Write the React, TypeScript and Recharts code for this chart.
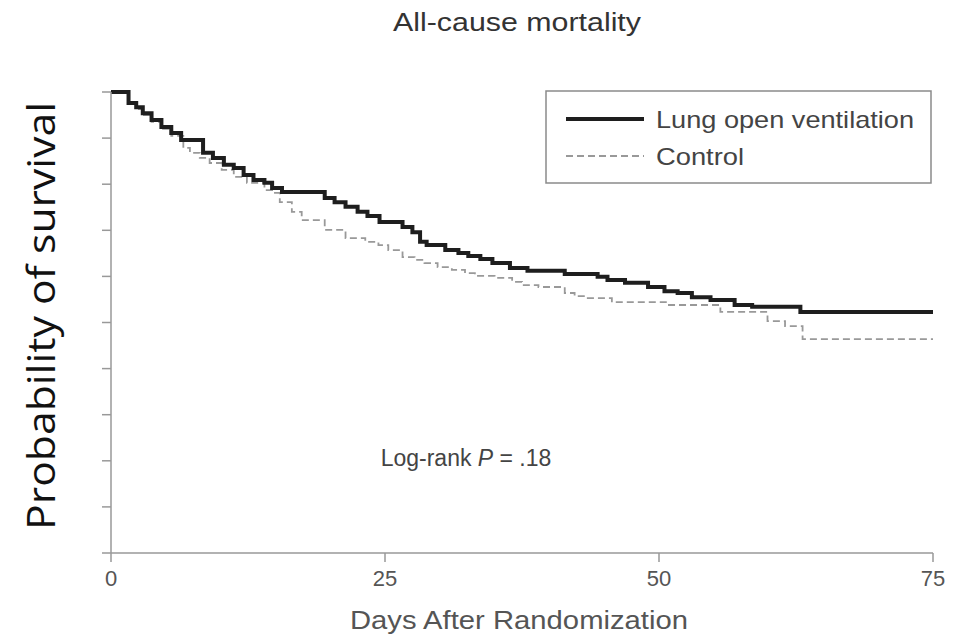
import { LineChart, Line, XAxis, YAxis, Legend, Customized } from "recharts";

// Kaplan-Meier step points
const lovDays = [0, 1.6, 2.3, 2.9, 3.7, 4.6, 5.5, 6.4, 8.4, 9.3, 10.3, 11.2, 12.1, 13.0, 14.0, 14.7, 15.6, 19.5, 20.4, 21.4, 22.5, 23.4, 24.5, 26.6, 27.5, 28.2, 28.8, 30.5, 31.7, 32.6, 33.7, 34.8, 36.4, 38.0, 41.4, 44.4, 45.3, 46.9, 49.0, 50.5, 51.7, 53.0, 54.7, 56.9, 58.5, 62.9, 75];
const lovSurvival = [1.0, 0.976, 0.967, 0.954, 0.939, 0.924, 0.911, 0.896, 0.868, 0.857, 0.842, 0.835, 0.82, 0.809, 0.803, 0.792, 0.783, 0.77, 0.761, 0.751, 0.74, 0.731, 0.718, 0.707, 0.696, 0.675, 0.668, 0.657, 0.651, 0.644, 0.638, 0.629, 0.618, 0.612, 0.605, 0.599, 0.592, 0.586, 0.577, 0.568, 0.564, 0.555, 0.549, 0.538, 0.534, 0.523, 0.523];

const controlDays = [0, 1.6, 2.3, 2.9, 3.7, 4.6, 5.5, 6.6, 7.2, 8.1, 9.0, 10.1, 11.2, 12.4, 14.0, 14.7, 15.4, 16.5, 17.4, 19.5, 21.4, 23.2, 24.4, 25.3, 26.6, 27.7, 28.6, 29.8, 31.1, 32.3, 33.2, 35.0, 36.6, 37.5, 39.0, 41.4, 42.3, 43.5, 45.7, 50.8, 55.6, 59.9, 61.5, 63.1, 75];
const controlSurvival = [1.0, 0.974, 0.963, 0.95, 0.935, 0.92, 0.905, 0.879, 0.868, 0.857, 0.846, 0.831, 0.816, 0.803, 0.787, 0.781, 0.761, 0.74, 0.722, 0.701, 0.683, 0.675, 0.668, 0.657, 0.642, 0.636, 0.629, 0.62, 0.614, 0.607, 0.601, 0.597, 0.588, 0.581, 0.577, 0.564, 0.557, 0.553, 0.544, 0.538, 0.523, 0.503, 0.492, 0.464, 0.464];

const xTicks = [0, 25, 50, 75];
const yTicks = [0, 0.1, 0.2, 0.3, 0.4, 0.5, 0.6, 0.7, 0.8, 0.9, 1.0];

const lovData = lovDays.map((day, i) => ({ day, s: lovSurvival[i] }));
const controlData = controlDays.map((day, i) => ({ day, s: controlSurvival[i] }));

const sans = "'Liberation Sans', Arial, sans-serif";

function renderLegend() {
  return (
    <svg width={388} height={95}>
      <rect x={1} y={1} width={385} height={92} fill="#fff" stroke="#8a8a8a" strokeWidth={1.5} />
      <line x1={21} y1={29} x2={99} y2={29} stroke="#1e1e1e" strokeWidth={4} />
      <text x={111} y={29} dominantBaseline="central" fontFamily={sans} fontSize={24} fill="#444"
        textLength={258} lengthAdjust="spacingAndGlyphs">
        Lung open ventilation
      </text>
      <line x1={21} y1={66} x2={99} y2={66} stroke="#999" strokeWidth={1.8} strokeDasharray="7 4" />
      <text x={111} y={66} dominantBaseline="central" fontFamily={sans} fontSize={24} fill="#444"
        textLength={88} lengthAdjust="spacingAndGlyphs">
        Control
      </text>
    </svg>
  );
}

function Texts() {
  return (
    <g>
      <text x={517} y={22} textAnchor="middle" dominantBaseline="central" fontFamily={sans} fontSize={25} fill="#333"
        textLength={248} lengthAdjust="spacingAndGlyphs">
        All-cause mortality
      </text>
      <text x={519} y={620} textAnchor="middle" dominantBaseline="central" fontFamily={sans} fontSize={25} fill="#555"
        textLength={338} lengthAdjust="spacingAndGlyphs">
        Days After Randomization
      </text>
      <text
        x={40}
        y={316}
        transform="rotate(-90 40 316)"
        textAnchor="middle"
        dominantBaseline="central"
        fontFamily="'Open Sans', 'Noto Sans', sans-serif"
        fontSize={38}
        fill="#111"
        textLength={428}
        lengthAdjust="spacingAndGlyphs"
      >
        Probability of survival
      </text>
      <text x={466} y={458} textAnchor="middle" dominantBaseline="central" fontFamily={sans} fontSize={23} fill="#444">
        Log-rank <tspan fontStyle="italic">P</tspan> = .18
      </text>
    </g>
  );
}

export default function App() {
  return (
    <div style={{ position: "absolute", left: 0, top: 0, width: 963, height: 639, background: "#fff" }}>
      <LineChart width={963} height={639} margin={{ top: 92, right: 30, bottom: 26, left: 60 }}>
        <XAxis
          type="number"
          dataKey="day"
          domain={[0, 75]}
          ticks={xTicks}
          height={60}
          stroke="#999"
          strokeWidth={1.5}
          tickSize={9}
          tickMargin={8}
          tick={{ fontSize: 22, fill: "#555", fontFamily: sans }}
        />
        <YAxis
          type="number"
          domain={[0, 1]}
          ticks={yTicks}
          width={51}
          stroke="#999"
          strokeWidth={1.5}
          tickSize={9}
          tickFormatter={() => ""}
        />
        <Legend
          layout="vertical"
          align="center"
          verticalAlign="middle"
          content={renderLegend}
          wrapperStyle={{ left: 545, top: 90, width: 388, height: 95 }}
        />
        <Line
          data={controlData}
          dataKey="s"
          type="stepAfter"
          stroke="#999"
          strokeWidth={1.8}
          strokeDasharray="7 4"
          dot={false}
          isAnimationActive={false}
        />
        <Line
          data={lovData}
          dataKey="s"
          type="stepAfter"
          stroke="#1e1e1e"
          strokeWidth={4}
          dot={false}
          isAnimationActive={false}
        />
        <Customized component={Texts} />
      </LineChart>
    </div>
  );
}
